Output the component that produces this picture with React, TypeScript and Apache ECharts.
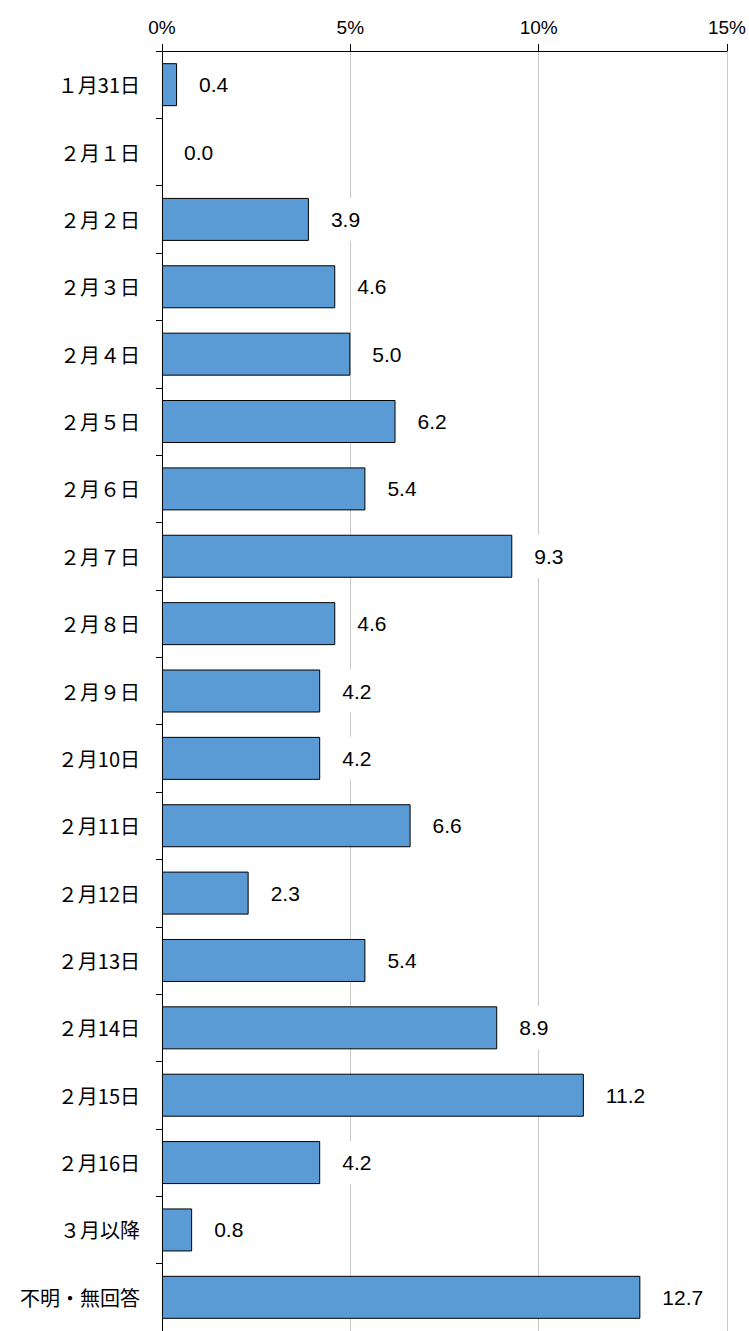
import React, { useEffect, useRef } from "react";
import * as echarts from "echarts";

const categories = [
  "１月31日", "２月１日", "２月２日", "２月３日", "２月４日", "２月５日", "２月６日", "２月７日",
  "２月８日", "２月９日", "２月10日", "２月11日", "２月12日", "２月13日", "２月14日",
  "２月15日", "２月16日", "３月以降", "不明・無回答",
];
const values = [0.4, 0.0, 3.9, 4.6, 5.0, 6.2, 5.4, 9.3, 4.6, 4.2, 4.2, 6.6, 2.3, 5.4, 8.9, 11.2, 4.2, 0.8, 12.7];
const xTicks = { min: 0, max: 15, interval: 5 };

const CJK = "'Noto Sans CJK JP', 'Noto Sans', sans-serif";
const NUM = "'Liberation Sans', Arial, sans-serif";

export default function App() {
  const ref = useRef<HTMLDivElement>(null);
  useEffect(() => {
    if (!ref.current) return;
    const chart = echarts.init(ref.current, undefined, { renderer: "svg" });
    chart.setOption({
      animation: false,
      backgroundColor: "#ffffff",
      grid: { left: 162, right: 22, top: 51, bottom: -6, containLabel: false },
      xAxis: {
        type: "value",
        position: "top",
        min: xTicks.min,
        max: xTicks.max,
        interval: xTicks.interval,
        axisLine: { show: true, lineStyle: { color: "#000", width: 1 } },
        axisTick: { show: true, length: 7, lineStyle: { color: "#000" } },
        axisLabel: {
          formatter: "{value}%",
          fontSize: 19,
          color: "#000",
          fontFamily: NUM,
          margin: 14,
        },
        splitLine: { show: true, lineStyle: { color: "#c8c8c8", width: 1 } },
      },
      yAxis: {
        type: "category",
        inverse: true,
        data: categories,
        axisLine: { show: true, lineStyle: { color: "#000", width: 1 } },
        axisTick: { show: true, length: 6, lineStyle: { color: "#000" } },
        axisLabel: { fontSize: 20, color: "#000", fontFamily: CJK, margin: 22 },
      },
      series: [
        {
          type: "bar",
          data: values.map((v) => (v === 0 ? { value: v, itemStyle: { borderWidth: 0 } } : v)),
          barWidth: 43,
          itemStyle: { color: "#5B9BD5", borderColor: "#000", borderWidth: 1 },
          label: {
            show: true,
            position: "right",
            distance: 19,
            formatter: (p: any) => Number(p.value).toFixed(1),
            fontSize: 21,
            color: "#000",
            fontFamily: NUM,
            backgroundColor: "#fff",
            padding: [11, 3],
          },
        },
      ],
    });
    return () => chart.dispose();
  }, []);
  return (
    <div
      ref={ref}
      style={{ position: "fixed", left: 0, top: 0, width: 749, height: 1331, background: "#fff" }}
    />
  );
}
